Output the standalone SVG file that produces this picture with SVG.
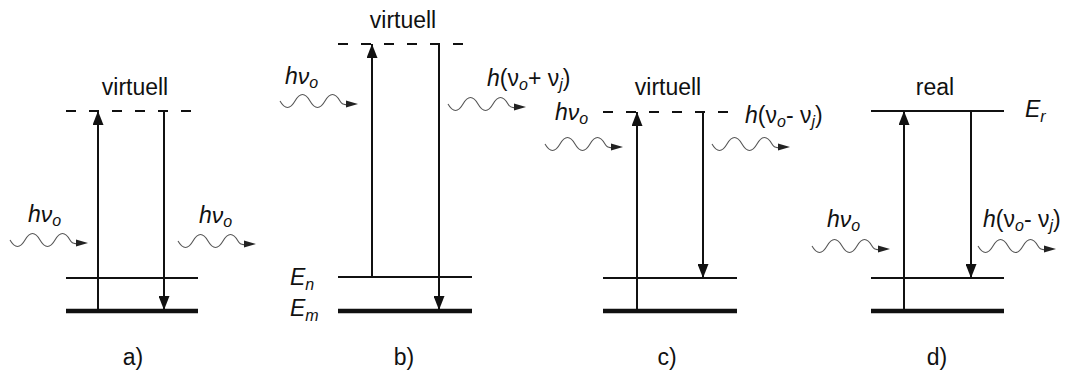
<svg xmlns="http://www.w3.org/2000/svg" xmlns:xlink="http://www.w3.org/1999/xlink" width="1070" height="381" viewBox="0 0 1070 381">
<style>
  text { font-family: "Liberation Sans", Arial, sans-serif; font-size: 23px; fill: #111; }
  .it { font-style: italic; }
  .sub { font-size: 16px; font-style: italic; }
  .lvl { stroke: #111; stroke-width: 2; fill: none; }
  .gnd { stroke: #111; stroke-width: 4.5; fill: none; }
  .dash { stroke: #111; stroke-width: 2.2; stroke-dasharray: 10 13; fill: none; }
  .tr { stroke: #111; stroke-width: 2; fill: none; marker-end: url(#ah); }
  .wv { stroke: #555; stroke-width: 1.1; fill: none; }
  .wh { fill: #222; }
</style>
<defs>
  <marker id="ah" viewBox="0 0 14 11" refX="14" refY="5.5" markerWidth="14" markerHeight="11" markerUnits="userSpaceOnUse" orient="auto">
    <path d="M0,0 L14,5.5 L0,11 z" fill="#111"/>
  </marker>
  <g id="wave">
    <path class="wv" d="M0,0 q7.5,13 15,0 q7.5,-13 15,0 q7.5,13 15,0 q7.5,-13 15,0 q3,5 8,3"/>
    <path class="wh" d="M66,-0.5 L78,3 L66,6.5 z"/>
  </g>
</defs>

<g id="panel-a">
  <line class="dash" x1="66" y1="111" x2="193" y2="111"/>
  <line class="lvl" x1="66" y1="278" x2="198" y2="278"/>
  <line class="gnd" x1="66" y1="311" x2="198" y2="311"/>
  <text x="135" y="95" text-anchor="middle">virtuell</text>
  <text x="28" y="222"><tspan class="it">hν</tspan><tspan class="sub" dy="4">o</tspan></text>
  <text x="199" y="223"><tspan class="it">hν</tspan><tspan class="sub" dy="4">o</tspan></text>
  <text x="133" y="365" text-anchor="middle">a)</text>
</g>

<g id="panel-b">
  <line class="dash" x1="338" y1="44" x2="468" y2="44"/>
  <line class="lvl" x1="338" y1="277" x2="472" y2="277"/>
  <line class="gnd" x1="338" y1="311" x2="472" y2="311"/>
  <text x="403" y="28" text-anchor="middle">virtuell</text>
  <text x="285" y="84"><tspan class="it">hν</tspan><tspan class="sub" dy="4">o</tspan></text>
  <text x="487" y="86"><tspan class="it">h</tspan>(ν<tspan class="sub" dy="4">o</tspan><tspan dy="-4">+ ν</tspan><tspan class="sub" dy="4">j</tspan><tspan dy="-4">)</tspan></text>
  <text x="290" y="285"><tspan class="it">E</tspan><tspan class="sub" dy="5">n</tspan></text>
  <text x="290" y="316"><tspan class="it">E</tspan><tspan class="sub" dy="5">m</tspan></text>
  <text x="404" y="365" text-anchor="middle">b)</text>
</g>

<g id="panel-c">
  <line class="dash" x1="603" y1="112" x2="733" y2="112"/>
  <line class="lvl" x1="603" y1="278" x2="737" y2="278"/>
  <line class="gnd" x1="603" y1="311" x2="737" y2="311"/>
  <text x="668" y="95" text-anchor="middle">virtuell</text>
  <text x="555" y="120"><tspan class="it">hν</tspan><tspan class="sub" dy="4">o</tspan></text>
  <text x="745" y="123"><tspan class="it">h</tspan>(ν<tspan class="sub" dy="4">o</tspan><tspan dy="-4">- ν</tspan><tspan class="sub" dy="4">j</tspan><tspan dy="-4">)</tspan></text>
  <text x="667" y="365" text-anchor="middle">c)</text>
</g>

<g id="panel-d">
  <line class="lvl" x1="871" y1="111" x2="1004" y2="111"/>
  <line class="lvl" x1="871" y1="278" x2="1004" y2="278"/>
  <line class="gnd" x1="871" y1="311" x2="1004" y2="311"/>
  <text x="935" y="95" text-anchor="middle">real</text>
  <text x="1025" y="117"><tspan class="it">E</tspan><tspan class="sub" dy="5">r</tspan></text>
  <text x="827" y="227"><tspan class="it">hν</tspan><tspan class="sub" dy="4">o</tspan></text>
  <text x="983" y="227"><tspan class="it">h</tspan>(ν<tspan class="sub" dy="4">o</tspan><tspan dy="-4">- ν</tspan><tspan class="sub" dy="4">j</tspan><tspan dy="-4">)</tspan></text>
  <text x="937" y="365" text-anchor="middle">d)</text>
</g>

<g id="connectors">
  <line class="tr" x1="98" y1="311" x2="98" y2="111"/>
  <line class="tr" x1="164" y1="111" x2="164" y2="310"/>
  <line class="tr" x1="372" y1="277" x2="372" y2="44"/>
  <line class="tr" x1="439" y1="44" x2="439" y2="310"/>
  <line class="tr" x1="637" y1="311" x2="637" y2="112"/>
  <line class="tr" x1="703" y1="112" x2="703" y2="278"/>
  <line class="tr" x1="904" y1="311" x2="904" y2="111"/>
  <line class="tr" x1="971" y1="111" x2="971" y2="278"/>
  <use xlink:href="#wave" x="10" y="240"/>
  <use xlink:href="#wave" x="178" y="241"/>
  <use xlink:href="#wave" x="280" y="101"/>
  <use xlink:href="#wave" x="448" y="104"/>
  <use xlink:href="#wave" x="545" y="144"/>
  <use xlink:href="#wave" x="712" y="144"/>
  <use xlink:href="#wave" x="812" y="246"/>
  <use xlink:href="#wave" x="978" y="246"/>
</g>
</svg>
